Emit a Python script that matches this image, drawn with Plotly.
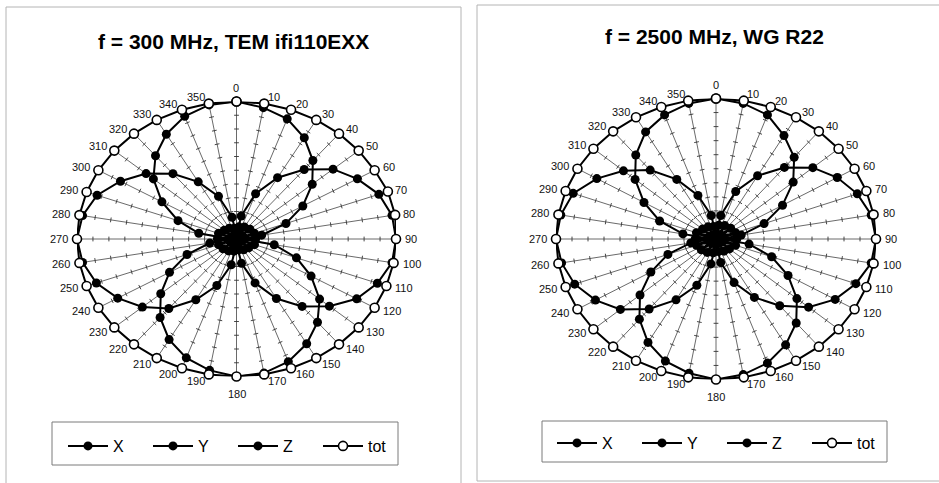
import numpy as np
import plotly.graph_objects as go

# ---------------------------------------------------------------------------
# Data: normalised probe response versus rotation angle (degrees)
# ---------------------------------------------------------------------------
ANGLES = [0, 10, 20, 30, 40, 50, 60, 70, 80, 90, 100, 110,
          120, 130, 140, 150, 160, 170, 180, 190, 200, 210, 220, 230,
          240, 250, 260, 270, 280, 290, 300, 310, 320, 330, 340, 350]
ANGLE_LABELS = [str(a) for a in ANGLES]
SERIES_NAMES = ["X", "Y", "Z", "tot"]

TITLE_300 = "f = 300 MHz, TEM ifi110EXX"
x_300 = [0.03, 0.17, 0.35, 0.515, 0.66, 0.79, 0.875, 0.95, 0.99, 1.00, 0.99, 0.94,
         0.87, 0.76, 0.64, 0.50, 0.34, 0.18, 0.04, 0.19, 0.36, 0.51, 0.66, 0.77,
         0.86, 0.935, 0.98, 1.00, 0.98, 0.93, 0.84, 0.74, 0.62, 0.48, 0.33, 0.16]
y_300 = [1.00, 0.97, 0.93, 0.85, 0.745, 0.62, 0.48, 0.33, 0.16, 0.04, 0.24, 0.40,
         0.54, 0.68, 0.79, 0.88, 0.95, 0.99, 1.00, 0.97, 0.92, 0.845, 0.745, 0.62,
         0.485, 0.33, 0.17, 0.04, 0.24, 0.39, 0.54, 0.68, 0.79, 0.88, 0.95, 0.99]
z_300 = [0.03, 0.09, 0.02, 0.10, 0.04, 0.11, 0.03, 0.12, 0.05, 0.12, 0.04, 0.12,
         0.03, 0.10, 0.02, 0.09, 0.03, 0.08, 0.02, 0.09, 0.03, 0.10, 0.04, 0.11,
         0.03, 0.12, 0.05, 0.12, 0.04, 0.12, 0.03, 0.10, 0.02, 0.09, 0.03, 0.08]
tot_300 = [1.00, 1.00, 1.00, 1.00, 1.00, 1.00, 1.00, 1.01, 1.01, 1.00, 1.00, 1.00,
           1.00, 1.00, 1.00, 1.00, 1.00, 1.00, 1.00, 1.00, 1.00, 1.00, 1.00, 1.00,
           1.00, 1.00, 1.00, 1.00, 1.00, 1.00, 1.00, 1.00, 1.00, 1.00, 1.00, 1.00]

TITLE_2500 = "f = 2500 MHz, WG R22"
x_2500 = [0.03, 0.17, 0.36, 0.52, 0.665, 0.79, 0.875, 0.94, 0.985, 1.00, 0.985, 0.93,
          0.86, 0.755, 0.62, 0.48, 0.33, 0.17, 0.03, 0.18, 0.35, 0.50, 0.65, 0.78,
          0.87, 0.94, 0.98, 1.00, 0.985, 0.95, 0.86, 0.755, 0.64, 0.49, 0.33, 0.17]
y_2500 = [1.00, 0.98, 0.94, 0.85, 0.76, 0.63, 0.48, 0.32, 0.16, 0.04, 0.21, 0.37,
          0.52, 0.66, 0.78, 0.87, 0.94, 0.98, 1.00, 0.97, 0.925, 0.85, 0.745, 0.62,
          0.47, 0.32, 0.16, 0.04, 0.21, 0.375, 0.52, 0.66, 0.78, 0.88, 0.94, 0.98]
z_2500 = [0.03, 0.10, 0.03, 0.11, 0.04, 0.12, 0.04, 0.13, 0.05, 0.13, 0.05, 0.13,
          0.04, 0.11, 0.03, 0.10, 0.03, 0.09, 0.03, 0.10, 0.03, 0.11, 0.04, 0.12,
          0.04, 0.13, 0.05, 0.13, 0.05, 0.13, 0.04, 0.11, 0.03, 0.10, 0.03, 0.09]
tot_2500 = [1.00, 1.00, 1.00, 1.00, 1.00, 1.00, 1.00, 1.00, 1.00, 1.00, 1.00, 1.00,
            1.00, 1.00, 1.00, 1.00, 1.00, 1.00, 1.00, 1.00, 1.00, 1.00, 1.00, 1.00,
            1.00, 1.00, 1.00, 1.00, 1.00, 1.00, 1.00, 1.00, 1.00, 1.00, 1.00, 1.00]

RADIAL_MAX = 1.0
RADIAL_STEP_LEVELS = [0.1, 0.2, 0.3, 0.4, 0.5, 0.6, 0.7, 0.8, 0.9]

# ---------------------------------------------------------------------------
# Page geometry (pixels)
# ---------------------------------------------------------------------------
W, H = 939, 483
FONT = "Liberation Sans, Arial, sans-serif"

panels = [
    dict(title=TITLE_300, series=[x_300, y_300, z_300, tot_300],
         cx=236.5, cy=239.0, rx=159.5, ry=137.5, xa="x", ya="y",
         legend="legend", title_xy=(233, 42),
         legend_box=(52, 422, 398, 465), legend_pos=(63, 446)),
    dict(title=TITLE_2500, series=[x_2500, y_2500, z_2500, tot_2500],
         cx=716.0, cy=239.0, rx=160.0, ry=140.5, xa="x2", ya="y2",
         legend="legend2", title_xy=(714, 37),
         legend_box=(542, 421, 887, 462), legend_pos=(552, 443)),
]


def polar_to_xy(angles_deg, radii):
    """Clockwise-from-north radar projection onto the panel's own x/y axes."""
    t = np.deg2rad(np.asarray(angles_deg, dtype=float))
    r = np.asarray(radii, dtype=float)
    return r * np.sin(t), r * np.cos(t)


fig = go.Figure()
layout_axes = {}
annotations = []
shapes = []

for i, p in enumerate(panels):
    sfx = "" if i == 0 else str(i + 1)
    rx, ry = p["rx"], p["ry"]

    # axis domains so that radius 1 spans rx horizontally and ry vertically
    x0 = (p["cx"] - rx) / W
    x1 = (p["cx"] + rx) / W
    y0 = 1 - (p["cy"] + ry) / H
    y1 = 1 - (p["cy"] - ry) / H
    layout_axes["xaxis" + sfx] = dict(domain=[x0, x1], range=[-RADIAL_MAX, RADIAL_MAX],
                                      visible=False, fixedrange=True)
    layout_axes["yaxis" + sfx] = dict(domain=[y0, y1], range=[-RADIAL_MAX, RADIAL_MAX],
                                      visible=False, fixedrange=True)

    # spokes
    sx, sy = [], []
    ex, ey = polar_to_xy(ANGLES, [RADIAL_MAX] * len(ANGLES))
    for a, b in zip(ex, ey):
        sx += [0, a, None]
        sy += [0, b, None]
    fig.add_trace(go.Scatter(x=sx, y=sy, mode="lines", xaxis=p["xa"], yaxis=p["ya"],
                             line=dict(color="#444444", width=0.8),
                             hoverinfo="skip", showlegend=False))

    # tick marks crossing each spoke (perpendicular on screen)
    half = 2.4
    tx, ty = [], []
    for ang in ANGLES:
        t = np.deg2rad(ang)
        dpx = np.array([np.sin(t) * rx, np.cos(t) * ry])
        dpx /= np.hypot(*dpx)
        perp = np.array([-dpx[1], dpx[0]]) * half
        for lev in RADIAL_STEP_LEVELS:
            cx_, cy_ = lev * np.sin(t), lev * np.cos(t)
            tx += [cx_ - perp[0] / rx, cx_ + perp[0] / rx, None]
            ty += [cy_ - perp[1] / ry, cy_ + perp[1] / ry, None]
    fig.add_trace(go.Scatter(x=tx, y=ty, mode="lines", xaxis=p["xa"], yaxis=p["ya"],
                             line=dict(color="#333333", width=0.9),
                             hoverinfo="skip", showlegend=False))

    # data series (closed radar loops)
    for name, vals in zip(SERIES_NAMES, p["series"]):
        angs = ANGLES + [ANGLES[0]]
        rr = list(vals) + [vals[0]]
        xs, ys = polar_to_xy(angs, rr)
        if name == "tot":
            marker = dict(size=9, color="white", line=dict(color="black", width=1.6))
        else:
            marker = dict(size=9, color="black", line=dict(color="black", width=0))
        fig.add_trace(go.Scatter(x=xs, y=ys, mode="lines+markers", name=name,
                                 xaxis=p["xa"], yaxis=p["ya"], legend=p["legend"],
                                 line=dict(color="black", width=2), marker=marker,
                                 cliponaxis=False))

    # angle labels around the rim (placed in page coordinates)
    for ang, lab in zip(ANGLES, ANGLE_LABELS):
        t = np.deg2rad(ang)
        s, c = np.sin(t), np.cos(t)
        half_w = 3.1 * len(lab)
        if abs(s) < 0.05:
            ox = 0.0
            oy = 14.0 if c > 0 else -17.0
        else:
            ox = np.sign(s) * (half_w + 2.0 + 7.0 * abs(s))
            oy = 6.5 * c
        px = p["cx"] + s * rx * RADIAL_MAX + ox
        py = p["cy"] - c * ry * RADIAL_MAX - oy
        annotations.append(dict(
            x=px / W, y=1 - py / H, xref="paper", yref="paper", text=lab,
            showarrow=False, xanchor="center", yanchor="middle",
            font=dict(family=FONT, size=11, color="#111111")))

    # panel title
    tx_, ty_ = p["title_xy"]
    annotations.append(dict(x=tx_ / W, y=1 - ty_ / H, xref="paper", yref="paper",
                            text="<b>" + p["title"] + "</b>", showarrow=False,
                            xanchor="center", yanchor="middle",
                            font=dict(family=FONT, size=21, color="black")))

    # legend frame
    bx0, by0, bx1, by1 = p["legend_box"]
    shapes.append(dict(type="rect", xref="paper", yref="paper",
                       x0=bx0 / W, x1=bx1 / W, y0=1 - by1 / H, y1=1 - by0 / H,
                       line=dict(color="#7a7a7a", width=1)))

    lx, ly = p["legend_pos"]
    layout_axes[p["legend"]] = dict(
        orientation="h", x=lx / W, y=1 - ly / H, xanchor="left", yanchor="middle",
        entrywidth=30, entrywidthmode="pixels", itemwidth=40,
        bgcolor="rgba(0,0,0,0)", borderwidth=0, tracegroupgap=0,
        font=dict(family=FONT, size=16, color="black"))

# outer chart frames
shapes.append(dict(type="rect", xref="paper", yref="paper",
                   x0=6 / W, x1=461 / W, y0=-0.05, y1=1 - 7 / H,
                   line=dict(color="#b4b4b4", width=1)))
shapes.append(dict(type="rect", xref="paper", yref="paper",
                   x0=477 / W, x1=1.05, y0=1 - 481 / H, y1=1 - 5 / H,
                   line=dict(color="#b4b4b4", width=1)))

fig.update_layout(
    width=W, height=H, margin=dict(l=0, r=0, t=0, b=0),
    paper_bgcolor="white", plot_bgcolor="rgba(0,0,0,0)",
    annotations=annotations, shapes=shapes, hovermode=False,
    **layout_axes,
)

fig.write_html("out.html")
